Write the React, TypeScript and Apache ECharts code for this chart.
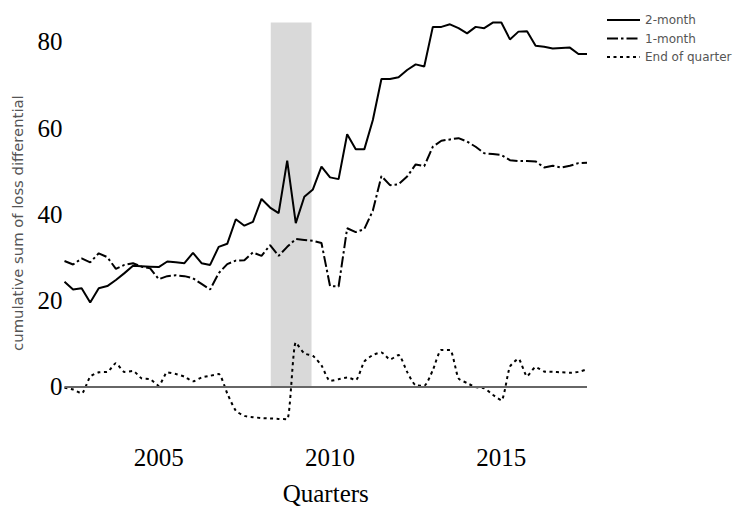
import React, { useEffect, useRef } from "react";
import * as echarts from "echarts";

// Quarterly observations, first quarter and step (years)
const startQuarter = 2002.25;
const quarterStep = 0.25;

const twoMonth = [
  24.4, 22.6, 22.9, 19.6, 22.9, 23.4, 24.8, 26.4, 28.1, 28.0,
  27.9, 27.8, 29.1, 28.9, 28.7, 31.1, 28.7, 28.3, 32.5, 33.2,
  38.9, 37.4, 38.3, 43.6, 41.6, 40.3, 52.5, 38.0, 44.1, 45.8,
  51.1, 48.6, 48.2, 58.6, 55.1, 55.1, 61.9, 71.4, 71.4, 71.8,
  73.5, 74.8, 74.3, 83.5, 83.5, 84.1, 83.2, 82.0, 83.5, 83.2,
  84.5, 84.5, 80.6, 82.4, 82.5, 79.1, 78.9, 78.5, 78.6, 78.7,
  77.2, 77.2,
];

const oneMonth = [
  29.2, 28.4, 29.8, 28.9, 31.0, 30.1, 27.4, 28.3, 28.7, 27.9,
  27.5, 25.0, 25.7, 25.9, 25.7, 25.2, 23.9, 22.6, 26.4, 28.5,
  29.3, 29.4, 31.2, 30.4, 32.9, 30.4, 32.5, 34.3, 34.1, 33.9,
  33.4, 23.4, 23.3, 36.8, 35.9, 36.6, 40.9, 48.9, 46.8, 47.0,
  48.8, 51.6, 51.2, 55.7, 57.1, 57.4, 57.7, 56.9, 55.7, 54.2,
  54.0, 53.8, 52.6, 52.4, 52.4, 52.3, 50.9, 51.3, 50.9, 51.3,
  51.9, 52.0,
];

const endOfQuarter = [
  -0.2, -0.6, -1.5, 2.4, 3.4, 3.5, 5.5, 3.5, 3.7, 2.0,
  1.8, 0.3, 3.4, 3.0, 2.4, 1.3, 2.2, 2.6, 3.0, -1.5,
  -5.5, -6.7, -7.0, -7.2, -7.3, -7.4, -7.5, 10.3, 7.8, 7.2,
  5.0, 1.4, 1.8, 2.2, 1.6, 5.9, 7.4, 8.0, 6.4, 7.4,
  3.5, 0.4, 0.3, 3.9, 8.6, 8.6, 2.0, 0.9, 0.0, -0.3,
  -1.8, -3.1, 4.7, 6.5, 2.5, 4.6, 3.6, 3.5, 3.4, 3.3,
  3.5, 4.1,
];

const seriesNames = ["2-month", "1-month", "End of quarter"];
const xTickLabels = [2005, 2010, 2015];
const yTickLabels = [0, 20, 40, 60, 80];
const recessionBand = [2008.27, 2009.46];
const recessionTop = 84.5;

const toPoints = (vals: number[]) =>
  vals.map((v, i) => [startQuarter + i * quarterStep, v]);

export default function App() {
  const ref = useRef<HTMLDivElement>(null);

  useEffect(() => {
    if (!ref.current) return;
    const chart = echarts.init(ref.current, null, { renderer: "svg" });
    const serif = "Liberation Serif";
    const sans = "DejaVu Sans";
    const lastX = startQuarter + (twoMonth.length - 1) * quarterStep;
    chart.setOption({
      animation: false,
      backgroundColor: "#ffffff",
      grid: {
        left: 64.5,
        right: 147,
        top: 16.1,
        bottom: 77.9,
        containLabel: false,
        outerBoundsMode: "none",
      },
      legend: {
        orient: "vertical",
        left: 601,
        top: 9,
        itemWidth: 33,
        itemHeight: 14,
        itemGap: 6.5,
        data: seriesNames,
        itemStyle: { opacity: 0, borderWidth: 0 },
        textStyle: { fontFamily: sans, fontSize: 12, color: "#555" },
      },
      xAxis: {
        type: "value",
        min: startQuarter,
        max: lastX,
        name: "Quarters",
        nameLocation: "middle",
        nameGap: 53.5,
        nameTextStyle: { fontFamily: serif, fontSize: 25, lineHeight: 20, color: "#000" },
        axisLine: { show: false },
        axisTick: { show: false },
        splitLine: { show: false },
        axisLabel: {
          customValues: xTickLabels,
          fontFamily: serif,
          fontSize: 25,
          color: "#000",
          margin: 15,
          formatter: (v: number) => String(Math.round(v)),
        },
      },
      yAxis: {
        type: "value",
        min: -10,
        max: 86,
        name: "cumulative sum of loss differential",
        nameLocation: "middle",
        nameGap: 40,
        nameTextStyle: { fontFamily: sans, fontSize: 14.8, color: "#555" },
        axisLine: { show: false },
        axisTick: { show: false },
        splitLine: { show: false },
        axisLabel: {
          customValues: yTickLabels,
          fontFamily: serif,
          fontSize: 25,
          color: "#000",
          margin: 2,
        },
      },
      series: [
        {
          type: "line",
          data: [],
          silent: true,
          z: 1,
          markArea: {
            silent: true,
            itemStyle: { color: "#d9d9d9" },
            data: [[{ xAxis: recessionBand[0], yAxis: 0 }, { xAxis: recessionBand[1], yAxis: recessionTop }]],
          },
          markLine: {
            silent: true,
            symbol: "none",
            label: { show: false },
            lineStyle: { color: "#666", width: 2, type: "solid" },
            data: [{ yAxis: 0 }],
          },
        },
        {
          name: seriesNames[0],
          type: "line",
          z: 3,
          symbol: "none",
          data: toPoints(twoMonth),
          lineStyle: { color: "#000", width: 2, type: "solid" },
          itemStyle: { color: "#000" },
        },
        {
          name: seriesNames[1],
          type: "line",
          z: 3,
          symbol: "none",
          data: toPoints(oneMonth),
          lineStyle: { color: "#000", width: 2, type: [11, 3, 2.5, 3] },
          itemStyle: { color: "#000" },
        },
        {
          name: seriesNames[2],
          type: "line",
          z: 3,
          symbol: "none",
          smooth: 0.2,
          data: toPoints(endOfQuarter),
          lineStyle: { color: "#000", width: 2, type: [3, 3.5] },
          itemStyle: { color: "#000" },
        },
      ],
    });
    return () => chart.dispose();
  }, []);

  return <div ref={ref} style={{ width: 734, height: 508, position: "absolute", left: 0, top: 0 }} />;
}
